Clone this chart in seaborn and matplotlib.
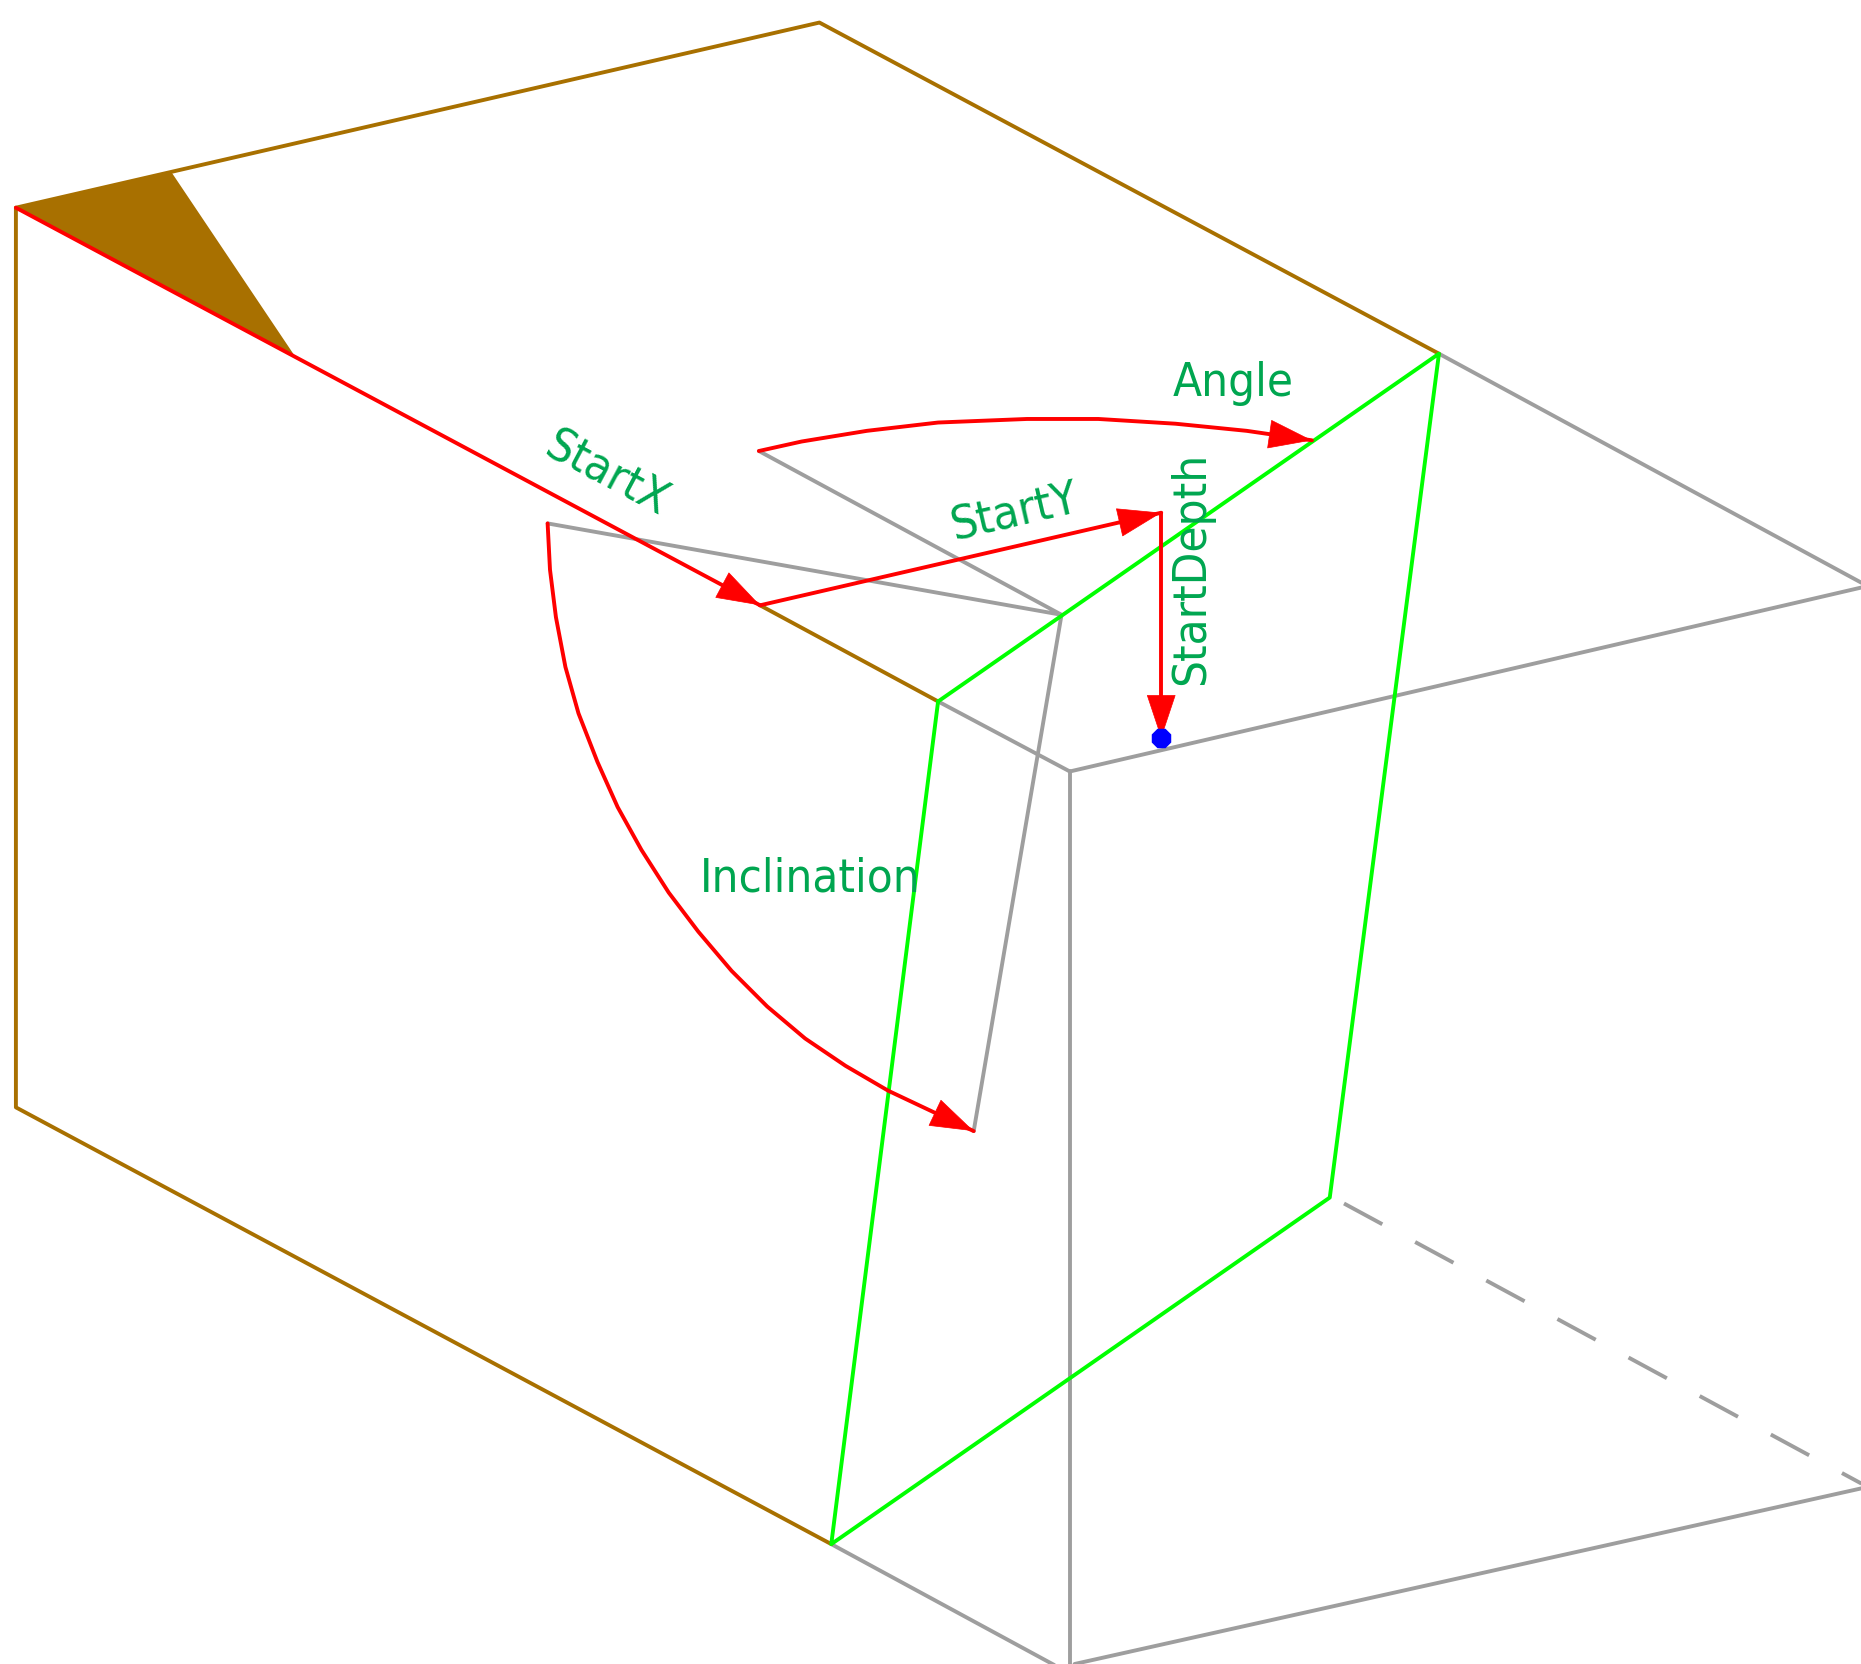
#!/usr/bin/env python3
# -*- coding: utf-8 -*-

import matplotlib
matplotlib.use('Agg')
import matplotlib.pyplot as plt
import seaborn as sns

# -------------------------------------------------
# Data (coordinates in drawing units, y goes down)
# -------------------------------------------------

BROWN_TOP_X = [13, 690, 1212]
BROWN_TOP_Y = [175, 19, 298]
BROWN_SIDE_X = [13, 13, 700]
BROWN_SIDE_Y = [175, 933, 1301]
BROWN_CUT_X = [640, 790]
BROWN_CUT_Y = [510, 591]

WEDGE_X = [13, 144, 248]
WEDGE_Y = [175, 145, 300]

GRAY_RIGHT_X = [1212, 1568]
GRAY_RIGHT_Y = [298, 491]
GRAY_FRONT_X = [790, 901, 1568]
GRAY_FRONT_Y = [591, 650, 495]
GRAY_EDGE_X = [901, 901]
GRAY_EDGE_Y = [650, 1402]
GRAY_LOW_X = [700, 890]
GRAY_LOW_Y = [1301, 1404]
GRAY_BOTTOM_X = [905, 1568]
GRAY_BOTTOM_Y = [1402, 1254]
GRAY_HIDDEN_X = [1132, 1568]
GRAY_HIDDEN_Y = [1014, 1250]
GRAY_ANGLE_X = [639, 894, 461]
GRAY_ANGLE_Y = [380, 518, 441]
GRAY_DIP_X = [894, 820]
GRAY_DIP_Y = [518, 953]

PLANE_X = [790, 1212, 1120, 700, 790]
PLANE_Y = [591, 298, 1009, 1301, 591]

ANGLE_ARC_X = [639, 675, 730, 790, 865, 925, 990, 1050, 1105]
ANGLE_ARC_Y = [380, 372, 363, 356, 353, 353, 357, 363, 371]
DIP_ARC_X = [461, 463, 468, 476, 487, 503, 520, 540, 563, 588,
             616, 646, 678, 712, 748, 820]
DIP_ARC_Y = [441, 480, 520, 562, 601, 642, 680, 716, 752, 785,
             818, 848, 875, 898, 919, 953]
START_X_X = [13, 640]
START_X_Y = [175, 510]
START_Y_X = [640, 978]
START_Y_Y = [510, 432]
START_DEPTH_X = [978, 978]
START_DEPTH_Y = [432, 622]

POINT_X = [978]
POINT_Y = [622]

LABELS = ['StartX', 'StartY', 'StartDepth', 'Angle', 'Inclination']
LABEL_X = [510, 854, 1004, 1039, 682]
LABEL_Y = [400, 433, 479, 323, 741]
LABEL_ROT = [-28, 13, 90, 0, 0]

BROWN = '#A87000'
GRAY = '#9E9E9E'
GREEN = '#00FF00'
RED = '#FF0000'
BLUE = '#0000FF'
TEXT = '#00A650'

LW = 2.8

# -------------------------------------------------
# Drawing
# -------------------------------------------------

sns.set_theme(style='white')
plt.rcParams['font.family'] = ['DejaVu Sans']

fig = plt.figure(figsize=(18.61, 16.64), dpi=100)
ax = fig.add_axes([0, 0, 1, 1])


def line(xs, ys, color, lw=LW):
    sns.lineplot(x=xs, y=ys, sort=False, estimator=None, color=color,
                 linewidth=lw, ax=ax, legend=False)
    ax.lines[-1].set_solid_capstyle('round')
    return ax.lines[-1]


def arrow(xs, ys):
    ax.annotate(
        '',
        xy=(xs[-1], ys[-1]),
        xytext=(xs[-2], ys[-2]),
        arrowprops=dict(
            arrowstyle='-|>,head_length=1.5,head_width=0.5',
            mutation_scale=20,
            color=RED,
            lw=0.5,
            shrinkA=0,
            shrinkB=0
        ),
        zorder=6
    )


# gray edges first
line(GRAY_RIGHT_X, GRAY_RIGHT_Y, GRAY)
line(GRAY_FRONT_X, GRAY_FRONT_Y, GRAY)
line(GRAY_EDGE_X, GRAY_EDGE_Y, GRAY)
line(GRAY_LOW_X, GRAY_LOW_Y, GRAY)
line(GRAY_BOTTOM_X, GRAY_BOTTOM_Y, GRAY)
line(GRAY_ANGLE_X, GRAY_ANGLE_Y, GRAY)
line(GRAY_DIP_X, GRAY_DIP_Y, GRAY)

hidden = line(GRAY_HIDDEN_X, GRAY_HIDDEN_Y, GRAY)
hidden.set_dashes((11.2, 9.6))
hidden.set_dash_capstyle('butt')

# brown block
ax.fill(WEDGE_X, WEDGE_Y, color=BROWN, lw=0)
line(BROWN_TOP_X, BROWN_TOP_Y, BROWN)
line(BROWN_SIDE_X, BROWN_SIDE_Y, BROWN)
line(BROWN_CUT_X, BROWN_CUT_Y, BROWN)

# thin red edge along the wedge is part of the StartX line
# fault plane
line(PLANE_X, PLANE_Y, GREEN)

# red dimensions
line(START_X_X, START_X_Y, RED)
line(START_Y_X, START_Y_Y, RED)
line(START_DEPTH_X, START_DEPTH_Y, RED)
line(ANGLE_ARC_X, ANGLE_ARC_Y, RED)
line(DIP_ARC_X, DIP_ARC_Y, RED)

arrow(START_X_X, START_X_Y)
arrow(START_Y_X, START_Y_Y)
arrow(START_DEPTH_X, START_DEPTH_Y)
arrow(ANGLE_ARC_X, ANGLE_ARC_Y)
arrow(DIP_ARC_X, DIP_ARC_Y)

sns.scatterplot(x=POINT_X, y=POINT_Y, color=BLUE, s=230, marker='8',
                linewidth=0, ax=ax, legend=False, zorder=7)

for name, tx, ty, rot in zip(LABELS, LABEL_X, LABEL_Y, LABEL_ROT):
    ax.text(tx, ty, name, color=TEXT, fontsize=34, fontstretch='condensed',
            rotation=rot, rotation_mode='anchor', ha='center', va='center',
            zorder=8)

ax.set_xlim(-0.4, 1567.6)
ax.set_ylim(1402, 0)
ax.axis('off')

fig.savefig('out.png', dpi=100, facecolor='white')
